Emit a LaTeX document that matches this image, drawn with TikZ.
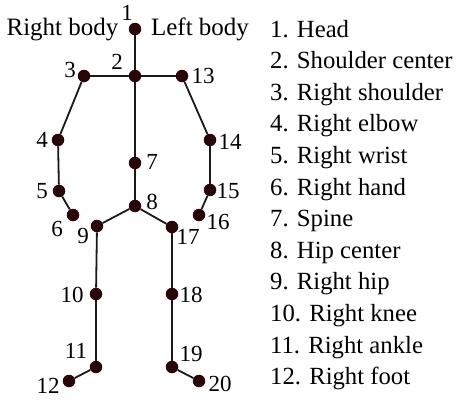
\documentclass[tikz,border=0pt]{standalone}
\usepackage{fontspec}
\setmainfont{Liberation Serif}
\definecolor{jointcol}{RGB}{42,6,8}
\begin{document}
\begin{tikzpicture}[x=1pt,y=-1pt,
  joint/.style={circle,fill=jointcol,inner sep=0pt,minimum size=12.5pt},
  bone/.style={line width=1.8pt,draw=black!90},
  lbl/.style={inner sep=0pt,font=\fontsize{23}{23}\selectfont},
  side/.style={inner sep=0pt,anchor=base,font=\fontsize{25}{25}\selectfont},
  leg/.style={inner sep=0pt,anchor=base west,font=\fontsize{24.7}{24.7}\selectfont}]
\useasboundingbox (0,0) rectangle (457,402);
% joints
\node[joint] (j1) at (135,29) {};
\node[joint] (j2) at (135,76) {};
\node[joint] (j3) at (84,76) {};
\node[joint] (j13) at (182,76) {};
\node[joint] (j4) at (58,140) {};
\node[joint] (j14) at (210,140) {};
\node[joint] (j7) at (135,163) {};
\node[joint] (j5) at (59,191) {};
\node[joint] (j15) at (210,190) {};
\node[joint] (j8) at (135,206) {};
\node[joint] (j6) at (73,215) {};
\node[joint] (j16) at (199,215) {};
\node[joint] (j9) at (97,226) {};
\node[joint] (j17) at (172,227) {};
\node[joint] (j10) at (96,294) {};
\node[joint] (j18) at (172,294) {};
\node[joint] (j11) at (96,367) {};
\node[joint] (j19) at (172,367) {};
\node[joint] (j12) at (69,381) {};
\node[joint] (j20) at (199,381) {};
% bones
\draw[bone] (j1) -- (j2);
\draw[bone] (j2) -- (j3);
\draw[bone] (j2) -- (j13);
\draw[bone] (j2) -- (j7);
\draw[bone] (j7) -- (j8);
\draw[bone] (j3) -- (j4);
\draw[bone] (j4) -- (j5);
\draw[bone] (j5) -- (j6);
\draw[bone] (j13) -- (j14);
\draw[bone] (j14) -- (j15);
\draw[bone] (j15) -- (j16);
\draw[bone] (j8) -- (j9);
\draw[bone] (j8) -- (j17);
\draw[bone] (j9) -- (j10);
\draw[bone] (j10) -- (j11);
\draw[bone] (j11) -- (j12);
\draw[bone] (j17) -- (j18);
\draw[bone] (j18) -- (j19);
\draw[bone] (j19) -- (j20);
% joint labels
\node[lbl] (l1) at (127,13) {1};
\node[lbl] (l2) at (117,62) {2};
\node[lbl] (l3) at (70,70) {3};
\node[lbl] (l13) at (203,76) {13};
\node[lbl] (l4) at (42,140) {4};
\node[lbl] (l14) at (230,142) {14};
\node[lbl] (l7) at (152,162) {7};
\node[lbl] (l5) at (42,191) {5};
\node[lbl] (l15) at (228,191) {15};
\node[lbl] (l8) at (152,202) {8};
\node[lbl] (l6) at (57,229) {6};
\node[lbl] (l16) at (218,222) {16};
\node[lbl] (l9) at (83,236) {9};
\node[lbl] (l17) at (188,237) {17};
\node[lbl] (l10) at (72,295) {10};
\node[lbl] (l18) at (191,295) {18};
\node[lbl] (l11) at (76,351) {11};
\node[lbl] (l19) at (191,354) {19};
\node[lbl] (l12) at (48,386) {12};
\node[lbl] (l20) at (220,384) {20};
% side labels
\node[side] (rb) at (62.5,35) {Right body};
\node[side] (lb) at (200,35) {Left body};
% legend
\foreach \t [count=\i] in {Head,Shoulder center,Right shoulder,Right elbow,Right wrist,Right hand,Spine,Hip center,Right hip,Right knee,Right ankle,Right foot}
  \node[leg] (leg\i) at (270,{37+(\i-1)*31.6}) {\i. \t};
\end{tikzpicture}
\end{document}
